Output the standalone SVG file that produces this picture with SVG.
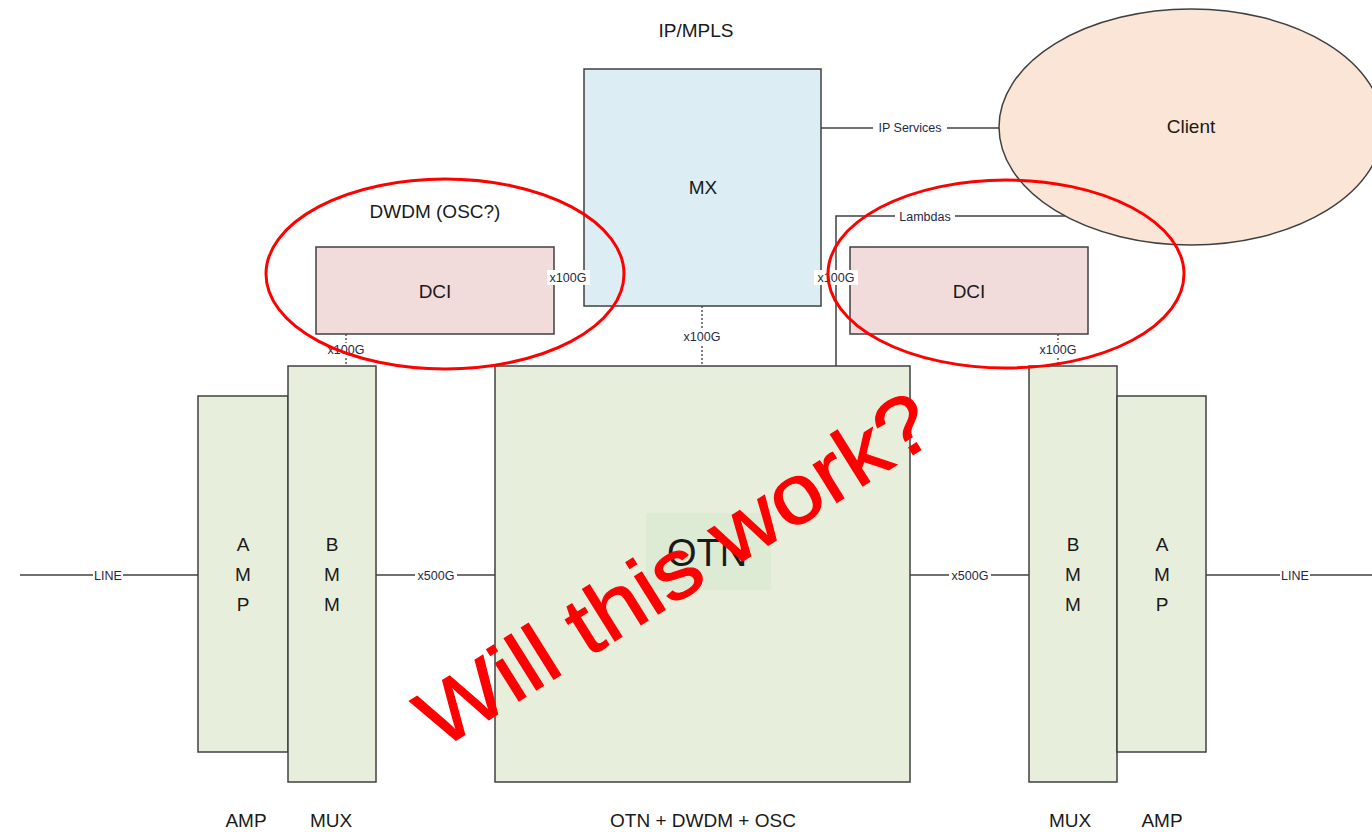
<svg xmlns="http://www.w3.org/2000/svg" width="1372" height="832" viewBox="0 0 1372 832">
<style>
.box{stroke:#404040;stroke-width:1.5}
.green{fill:#E7EFDC}
.t{font-family:"Liberation Sans",Arial,sans-serif;fill:#1a1a1a;text-anchor:middle}
.big{font-size:19px}
.sm{font-size:12.5px;fill:#1f2a44}
.ln{stroke:#404040;stroke-width:1.5;fill:none}
.dot{stroke:#808080;stroke-width:2;stroke-dasharray:2 2;fill:none}
.lb{fill:#ffffff}
.red{fill:none;stroke:#FF0000;stroke-width:3}
</style>
<rect width="1372" height="832" fill="#ffffff"/>
<g id="connectors">
<line class="ln" x1="20" y1="575" x2="198" y2="575"/>
<rect class="lb" x="93" y="568" width="30" height="14"/>
<text class="t sm" x="108" y="580">LINE</text>
<line class="ln" x1="376" y1="575" x2="495" y2="575"/>
<rect class="lb" x="415" y="568" width="42" height="14"/>
<text class="t sm" x="436" y="580">x500G</text>
<line class="ln" x1="910" y1="575" x2="1029" y2="575"/>
<rect class="lb" x="949" y="568" width="42" height="14"/>
<text class="t sm" x="970" y="580">x500G</text>
<line class="ln" x1="1206" y1="575" x2="1372" y2="575"/>
<rect class="lb" x="1280" y="568" width="30" height="14"/>
<text class="t sm" x="1295" y="580">LINE</text>
<line class="ln" x1="821" y1="128" x2="999" y2="128"/>
<rect class="lb" x="873" y="121" width="74" height="14"/>
<text class="t sm" x="910" y="132">IP Services</text>
<polyline class="ln" points="836,366 836,216 1065,216"/>
<rect class="lb" x="895" y="209" width="60" height="14"/>
<text class="t sm" x="925" y="221">Lambdas</text>
<line class="dot" x1="702" y1="306" x2="702" y2="366"/>
<rect class="lb" x="680" y="330" width="44" height="14"/>
<text class="t sm" x="702" y="341">x100G</text>
<line class="dot" x1="346" y1="334" x2="346" y2="366"/>
<rect class="lb" x="324" y="343" width="44" height="14"/>
<text class="t sm" x="346" y="354">x100G</text>
<line class="dot" x1="1058" y1="334" x2="1058" y2="366"/>
<rect class="lb" x="1036" y="343" width="44" height="14"/>
<text class="t sm" x="1058" y="354">x100G</text>
</g>
<g id="mx">
<rect class="box" x="584" y="69" width="237" height="237" fill="#DCEEF3"/>
<text class="t big" x="703" y="194">MX</text>
</g>
<text class="t big" x="696" y="37">IP/MPLS</text>
<g id="client">
<ellipse class="box" cx="1191" cy="127" rx="192" ry="118" fill="#FBE5D6"/>
<text class="t big" x="1191" y="133">Client</text>
</g>
<g id="dci-left">
<rect class="box" x="316" y="247" width="238" height="87" fill="#F2DCDB"/>
<text class="t big" x="435" y="298">DCI</text>
</g>
<text class="t big" x="435" y="218">DWDM (OSC?)</text>
<g id="dci-right">
<rect class="box" x="850" y="247" width="238" height="87" fill="#F2DCDB"/>
<text class="t big" x="969" y="298">DCI</text>
</g>
<g id="x100g-labels">
<line class="ln" x1="554" y1="277" x2="584" y2="277"/>
<rect class="lb" x="547" y="270" width="43" height="15"/>
<text class="t sm" x="568" y="282">x100G</text>
<line class="ln" x1="821" y1="277" x2="850" y2="277"/>
<rect class="lb" x="814" y="270" width="44" height="15"/>
<text class="t sm" x="836" y="282">x100G</text>
</g>
<g id="amp-left">
<rect class="box green" x="198" y="396" width="90" height="356"/>
<text class="t big" x="243" y="551">A</text>
<text class="t big" x="243" y="581">M</text>
<text class="t big" x="243" y="611">P</text>
</g>
<g id="bmm-left">
<rect class="box green" x="288" y="366" width="88" height="416"/>
<text class="t big" x="332" y="551">B</text>
<text class="t big" x="332" y="581">M</text>
<text class="t big" x="332" y="611">M</text>
</g>
<g id="otn">
<rect class="box green" x="495" y="366" width="415" height="416"/>
<rect x="646" y="513" width="125" height="77" fill="#DDEBD4"/>
<text class="t" x="707" y="566" font-size="38">OTN</text>
</g>
<g id="bmm-right">
<rect class="box green" x="1029" y="366" width="88" height="416"/>
<text class="t big" x="1073" y="551">B</text>
<text class="t big" x="1073" y="581">M</text>
<text class="t big" x="1073" y="611">M</text>
</g>
<g id="amp-right">
<rect class="box green" x="1117" y="396" width="89" height="356"/>
<text class="t big" x="1162" y="551">A</text>
<text class="t big" x="1162" y="581">M</text>
<text class="t big" x="1162" y="611">P</text>
</g>
<g id="bottom-labels">
<text class="t big" x="246" y="827">AMP</text>
<text class="t big" x="331" y="827">MUX</text>
<text class="t big" x="703" y="827">OTN + DWDM + OSC</text>
<text class="t big" x="1070" y="827">MUX</text>
<text class="t big" x="1162" y="827">AMP</text>
</g>
<g id="annotations">
<ellipse class="red" cx="445" cy="274" rx="179" ry="95"/>
<ellipse class="red" cx="1006" cy="274" rx="178" ry="94"/>
<text transform="translate(690,594) rotate(-32)" font-family="Liberation Sans,Arial,sans-serif" font-size="84" fill="#FF0000" stroke="#FF0000" stroke-width="1.2" text-anchor="middle" textLength="590" lengthAdjust="spacingAndGlyphs">Will this work?</text>
</g>
</svg>
